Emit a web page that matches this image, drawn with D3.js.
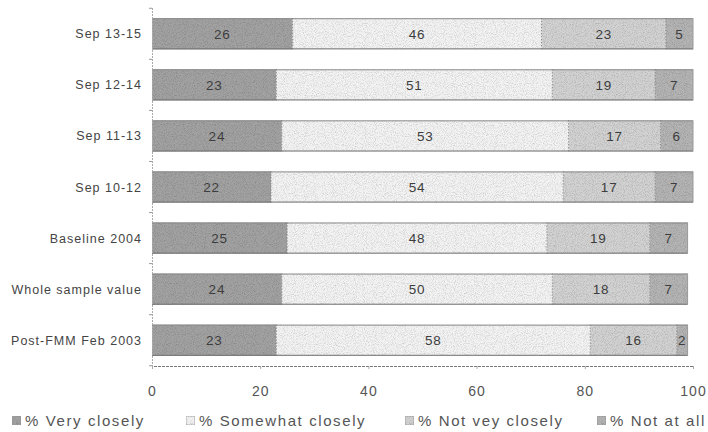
<!DOCTYPE html>
<html>
<head>
<meta charset="utf-8">
<script src="https://cdn.jsdelivr.net/npm/d3@7"></script>
<style>
  html, body { margin: 0; padding: 0; background: #fff; }
  svg { display: block; }
  text { font-family: "Liberation Sans", Arial, sans-serif; }
</style>
</head>
<body>
<svg id="chart" width="708" height="432"></svg>
<script>
// Survey periods, top to bottom
const periods = ["Sep 13-15", "Sep 12-14", "Sep 11-13", "Sep 10-12", "Baseline 2004", "Whole sample value", "Post-FMM Feb 2003"];
// Share of respondents (%) per answer
const veryClosely     = [26, 23, 24, 22, 25, 24, 23];
const somewhatClosely = [46, 51, 53, 54, 48, 50, 58];
const notVeryClosely  = [23, 19, 17, 17, 19, 18, 16];
const notAtAll        = [5, 7, 6, 7, 7, 7, 2];
const seriesNames = ["% Very closely", "% Somewhat closely", "% Not vey closely", "% Not at all"];
const xTicks = [0, 20, 40, 60, 80, 100];

const seriesValues = [veryClosely, somewhatClosely, notVeryClosely, notAtAll];
const fills = ["#a2a2a2", "#f3f3f3", "#d2d2d2", "#b4b4b4"];

const svg = d3.select("#chart");

// Grainy texture for the bar fills
const defs = svg.append("defs");
const grain = defs.append("filter").attr("id", "grain").attr("x", 0).attr("y", 0).attr("width", 1).attr("height", 1);
grain.append("feTurbulence").attr("type", "fractalNoise").attr("baseFrequency", 1.1).attr("numOctaves", 1).attr("seed", 3).attr("result", "noise");
grain.append("feColorMatrix").attr("in", "noise").attr("type", "matrix")
  .attr("values", "0 0 0 0 0  0 0 0 0 0  0 0 0 0 0  0 0 0 -0.9 0.5").attr("result", "dots");
grain.append("feComposite").attr("in", "dots").attr("in2", "SourceGraphic").attr("operator", "in").attr("result", "dotsIn");
grain.append("feMerge").selectAll("feMergeNode").data(["SourceGraphic", "dotsIn"]).join("feMergeNode").attr("in", d => d);

const margin = { left: 152, top: 8 };

const x = d3.scaleLinear().domain([0, 100]).range([margin.left, 693]);
const y = d3.scaleBand().domain(periods).range([margin.top, 366]).paddingInner(0.39).paddingOuter(0.2);

const rows = periods.map((p, i) => {
  let acc = 0;
  return seriesValues.map((vals, s) => {
    const seg = { period: p, series: s, v: vals[i], x0: acc, x1: acc + vals[i] };
    acc += vals[i];
    return seg;
  });
});
const segs = rows.flat();

const g = svg.append("g");

g.selectAll("rect.seg").data(segs).join("rect")
  .attr("class", "seg")
  .attr("x", d => x(d.x0))
  .attr("y", d => y(d.period))
  .attr("width", d => x(d.x1) - x(d.x0))
  .attr("height", y.bandwidth())
  .attr("fill", d => fills[d.series])
  .attr("filter", "url(#grain)");

// Bar outlines: solid top/bottom edges, dotted dividers between segments
periods.forEach((p, i) => {
  const total = d3.sum(seriesValues, s => s[i]);
  const y0 = y(p), y1 = y(p) + y.bandwidth();
  g.append("line").attr("x1", x(0)).attr("x2", x(total)).attr("y1", y0 + 0.5).attr("y2", y0 + 0.5)
    .attr("stroke", "#8a8a8a").attr("stroke-width", 1);
  g.append("line").attr("x1", x(0)).attr("x2", x(total)).attr("y1", y1 - 0.5).attr("y2", y1 - 0.5)
    .attr("stroke", "#6f6f6f").attr("stroke-width", 1);
  g.append("line").attr("x1", x(total)).attr("x2", x(total)).attr("y1", y0).attr("y2", y1)
    .attr("stroke", "#9a9a9a").attr("stroke-width", 1);
});
g.selectAll("line.div").data(segs.filter(d => d.series > 0)).join("line")
  .attr("class", "div")
  .attr("x1", d => x(d.x0)).attr("x2", d => x(d.x0))
  .attr("y1", d => y(d.period)).attr("y2", d => y(d.period) + y.bandwidth())
  .attr("stroke", "#777").attr("stroke-width", 1).attr("stroke-dasharray", "1,2");

// Value labels
g.selectAll("text.val").data(segs).join("text")
  .attr("class", "val")
  .attr("x", d => (x(d.x0) + x(d.x1)) / 2)
  .attr("y", d => y(d.period) + y.bandwidth() / 2)
  .attr("dy", "0.36em")
  .attr("text-anchor", "middle")
  .attr("font-size", 13.5)
  .attr("letter-spacing", 0.8)
  .attr("fill", "#3d3d3d")
  .text(d => d.v);

// Category labels
g.selectAll("text.cat").data(periods).join("text")
  .attr("class", "cat")
  .attr("x", 142)
  .attr("y", d => y(d) + y.bandwidth() / 2)
  .attr("dy", "0.36em")
  .attr("text-anchor", "end")
  .attr("font-size", 12.5)
  .attr("letter-spacing", 1)
  .attr("fill", "#444")
  .text(d => d);

// Y axis line with small ticks between bands
const yAxis = svg.append("g");
yAxis.append("line").attr("x1", x(0) + 0.5).attr("x2", x(0) + 0.5).attr("y1", margin.top).attr("y2", 366)
  .attr("stroke", "#aaa").attr("stroke-dasharray", "2,1");
const step = y.step();
d3.range(periods.length + 1).forEach(k => {
  const ty = y(periods[0]) - y.paddingInner() * step / 2 + k * step;
  yAxis.append("line").attr("x1", x(0) - 3).attr("x2", x(0)).attr("y1", ty).attr("y2", ty).attr("stroke", "#999");
});

// X axis
const xAxis = svg.append("g").attr("transform", "translate(0,366)")
  .call(d3.axisBottom(x).tickValues(xTicks).tickSize(3).tickPadding(17).tickFormat(d3.format("d")));
xAxis.select(".domain").attr("stroke", "#777").attr("stroke-dasharray", "3,1");
xAxis.selectAll(".tick line").attr("stroke", "#aaa");
xAxis.selectAll(".tick text").attr("font-size", 14).attr("fill", "#555").attr("letter-spacing", 1)
  .style("font-family", "'Liberation Sans', Arial, sans-serif");

// Legend
const legendX = [12, 186, 405, 597];
const legend = svg.append("g").attr("transform", "translate(0,421)");
const items = legend.selectAll("g").data(seriesNames).join("g")
  .attr("transform", (d, i) => `translate(${legendX[i]},0)`);
items.append("rect").attr("x", 0).attr("y", -5).attr("width", 9).attr("height", 9)
  .attr("fill", (d, i) => fills[i]).attr("stroke", "#999").attr("stroke-width", 0.8)
  .attr("filter", "url(#grain)");
items.append("text").attr("x", 13).attr("y", 0).attr("dy", "0.36em")
  .attr("font-size", 15).attr("letter-spacing", 1.6).attr("fill", "#555")
  .text(d => d);
</script>
</body>
</html>
